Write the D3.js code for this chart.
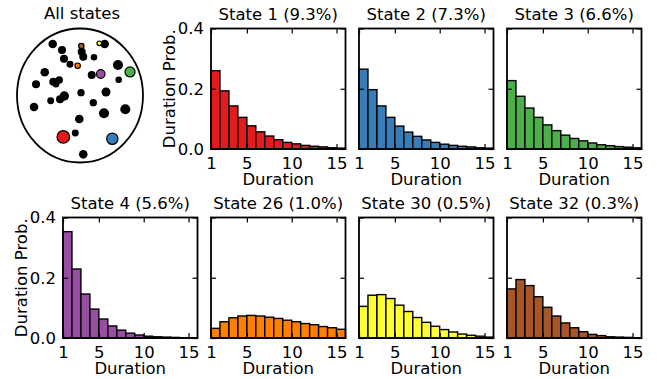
<!DOCTYPE html>
<html>
  <head>
    <style>
      body {
        margin: 0;
        background: #fff;
      }
      svg text {
        font-family: 'DejaVu Sans', sans-serif;
        font-size: 16.5px;
        fill: #000;
      }
    </style>
    <script src="https://d3js.org/d3.v7.min.js"></script>
  </head>
  <body>
    <svg id="chart" width="657" height="379"></svg>
  </body>

  <script>
    // durations (bins) and tick labels
    var durations = [1, 2, 3, 4, 5, 6, 7, 8, 9, 10, 11, 12, 13, 14, 15];
    var xTicks = [1, 5, 10, 15];
    var yTicks = [0, 0.2, 0.4];

    var titles = [
      'State 1 (9.3%)',
      'State 2 (7.3%)',
      'State 3 (6.6%)',
      'State 4 (5.6%)',
      'State 26 (1.0%)',
      'State 30 (0.5%)',
      'State 32 (0.3%)',
    ];
    var colors = ['#e41a1c', '#377eb8', '#4daf4a', '#984ea3', '#ff7f00', '#ffff33', '#a65628'];

    // duration probabilities
    var state1 = [0.26, 0.193, 0.143, 0.105, 0.077, 0.057, 0.043, 0.031, 0.022, 0.017, 0.012, 0.009, 0.007, 0.004, 0.003];
    var state2 = [0.265, 0.197, 0.143, 0.105, 0.076, 0.056, 0.042, 0.03, 0.022, 0.016, 0.012, 0.009, 0.007, 0.004, 0.003];
    var state3 = [0.227, 0.175, 0.136, 0.105, 0.08, 0.061, 0.046, 0.035, 0.027, 0.02, 0.014, 0.011, 0.008, 0.006, 0.004];
    var state4 = [0.353, 0.229, 0.146, 0.096, 0.063, 0.04, 0.026, 0.016, 0.01, 0.006, 0.004, 0.003, 0.002, 0.001, 0.001];
    var state26 = [0.032, 0.054, 0.067, 0.073, 0.075, 0.073, 0.069, 0.065, 0.059, 0.054, 0.048, 0.044, 0.038, 0.034, 0.029];
    var state30 = [0.105, 0.142, 0.144, 0.131, 0.109, 0.088, 0.068, 0.052, 0.039, 0.028, 0.02, 0.013, 0.009, 0.006, 0.003];
    var state32 = [0.163, 0.194, 0.174, 0.137, 0.102, 0.073, 0.05, 0.034, 0.021, 0.012, 0.008, 0.004, 0.003, 0.002, 0.001];
    var series = [state1, state2, state3, state4, state26, state30, state32];

    // "All states" map: position, size (occupancy %) and colour index (-1 = black)
    var dotX = [-0.433, -0.286, 0.021, 0.306, 0.392, 0.027, 0.052, -0.254, 0.222, -0.159, -0.037, 0.603, 0.794, -0.56, 0.186, 0.329, 0.614, -0.698, -0.424, -0.329, -0.381, 0.016, 0.413, -0.249, -0.317, -0.465, -0.73, 0.211, 0.381, 0.719, -0.011, -0.265, -0.075, 0.513, 0.052];
    var dotY = [0.769, 0.679, 0.739, 0.779, 0.769, 0.654, 0.579, 0.549, 0.57, 0.466, 0.445, 0.455, 0.351, 0.346, 0.306, 0.321, 0.236, 0.167, 0.206, 0.231, 0.172, 0.042, 0.052, -0.007, -0.057, -0.078, -0.172, -0.107, -0.266, -0.206, -0.351, -0.619, -0.56, -0.645, -0.878];
    var dotSize = [3.3, 2.7, 0.77, 0.41, 3.3, 2.7, 2.7, 2.7, 1.5, 1.8, 0.77, 5.0, 5.0, 3.3, 2.7, 3.3, 1.5, 2.7, 2.7, 2.1, 1.8, 2.1, 3.7, 4.2, 2.7, 1.8, 3.3, 2.1, 5.0, 5.0, 3.3, 8.9, 1.8, 6.9, 3.3];
    var dotColor = [-1, -1, 6, 5, -1, -1, -1, -1, -1, -1, 4, -1, 2, -1, -1, 3, -1, -1, -1, -1, -1, -1, -1, -1, -1, -1, -1, -1, -1, -1, -1, 0, -1, 1, -1];

    var svg = d3.select('#chart');

    // ---- All states panel
    var mx = d3.scaleLinear().domain([-1, 1]).range([17, 143]);
    var my = d3.scaleLinear().domain([-1, 1]).range([162.5, 28.5]);
    var mr = d3.scaleSqrt().domain([0, 10]).range([1.2, 6.6]);

    svg
      .append('text')
      .attr('x', 82)
      .attr('y', 19)
      .attr('text-anchor', 'middle')
      .text('All states');

    svg
      .append('ellipse')
      .attr('cx', mx(0))
      .attr('cy', my(0))
      .attr('rx', mx(1) - mx(0))
      .attr('ry', my(-1) - my(0))
      .attr('fill', 'none')
      .attr('stroke', '#000')
      .attr('stroke-width', 1.8);

    var dots = dotX.map((x, i) => ({ x: x, y: dotY[i], s: dotSize[i], c: dotColor[i] }));
    dots.sort((a, b) => (a.c >= 0) - (b.c >= 0));

    svg
      .append('g')
      .selectAll('circle')
      .data(dots)
      .enter()
      .append('circle')
      .attr('cx', (d) => mx(d.x))
      .attr('cy', (d) => my(d.y))
      .attr('r', (d) => mr(d.s))
      .attr('fill', (d) => (d.c < 0 ? '#000' : colors[d.c]))
      .attr('stroke', (d) => (d.c < 0 ? 'none' : '#000'))
      .attr('stroke-width', 1.2);

    // ---- histogram panels
    var colLeft = [63, 211, 359, 507];
    var rowTop = [28.5, 217.5];
    var pw = 134.5,
      ph = 120.5;
    var slots = [
      [0, 1],
      [0, 2],
      [0, 3],
      [1, 0],
      [1, 1],
      [1, 2],
      [1, 3],
    ];

    series.forEach(function (vals, i) {
      var row = slots[i][0],
        col = slots[i][1];
      var left = colLeft[col],
        top = rowTop[row];
      var firstInRow = (row == 0 && col == 1) || (row == 1 && col == 0);

      var x = d3.scaleLinear().domain([1, 16]).range([left, left + pw]);
      var y = d3.scaleLinear().domain([0, 0.4]).range([top + ph, top]);

      var g = svg.append('g');

      g.selectAll('rect.bar')
        .data(vals)
        .enter()
        .append('rect')
        .attr('class', 'bar')
        .attr('x', (d, j) => x(durations[j]))
        .attr('width', (d, j) => x(durations[j] + 1) - x(durations[j]))
        .attr('y', (d) => y(d))
        .attr('height', (d) => y(0) - y(d))
        .attr('fill', colors[i])
        .attr('stroke', '#000')
        .attr('stroke-width', 1.4);

      var bottom = g
        .append('g')
        .attr('transform', `translate(0,${top + ph})`)
        .call(d3.axisBottom(x).tickValues(xTicks).tickSizeInner(-5).tickSizeOuter(0).tickPadding(8.5));
      g.append('g')
        .attr('transform', `translate(0,${top})`)
        .call(d3.axisTop(x).tickValues(xTicks).tickSizeInner(-5).tickSizeOuter(0).tickFormat(''));
      var leftAx = g
        .append('g')
        .attr('transform', `translate(${left},0)`)
        .call(
          d3
            .axisLeft(y)
            .tickValues(yTicks)
            .tickSizeInner(-5)
            .tickSizeOuter(0)
            .tickPadding(7)
            .tickFormat(firstInRow ? d3.format('.1f') : '')
        );
      g.append('g')
        .attr('transform', `translate(${left + pw},0)`)
        .call(d3.axisRight(y).tickValues(yTicks).tickSizeInner(-5).tickSizeOuter(0).tickFormat(''));

      g.selectAll('.domain').remove();
      g.selectAll('.tick line').attr('stroke', '#000').attr('stroke-width', 1.2);
      g.selectAll('.tick text').attr('font-size', null).attr('font-family', null);
      g.selectAll('g').attr('font-size', null).attr('font-family', null);

      g.append('rect')
        .attr('x', left)
        .attr('y', top)
        .attr('width', pw)
        .attr('height', ph)
        .attr('fill', 'none')
        .attr('stroke', '#000')
        .attr('stroke-width', 1.8);

      g.append('text')
        .attr('x', left + pw / 2)
        .attr('y', top - 9)
        .attr('text-anchor', 'middle')
        .text(titles[i]);

      g.append('text')
        .attr('x', left + pw / 2)
        .attr('y', top + ph + 36)
        .attr('text-anchor', 'middle')
        .text('Duration');

      if (firstInRow) {
        g.append('text')
          .attr('transform', `translate(${left - 36},${top + ph / 2}) rotate(-90)`)
          .attr('text-anchor', 'middle')
          .text('Duration Prob.');
      }
    });
  </script>
</html>
